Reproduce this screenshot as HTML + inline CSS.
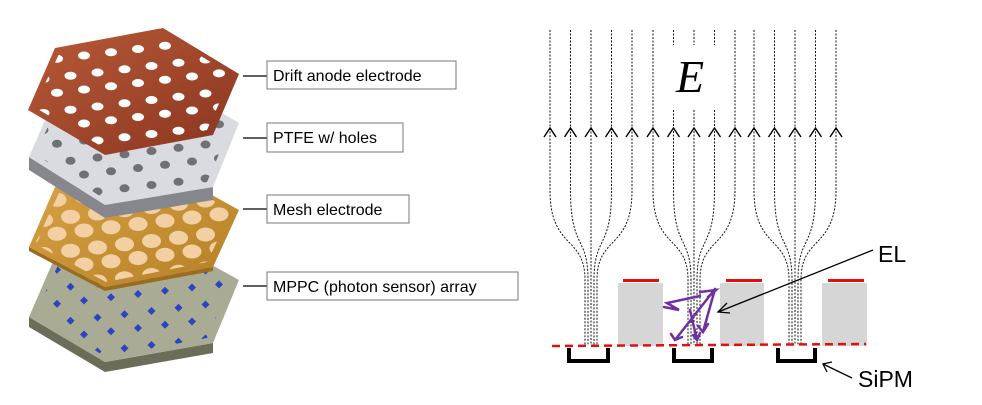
<!DOCTYPE html>
<html><head><meta charset="utf-8"><style>
html,body{margin:0;padding:0;background:#fff;width:982px;height:405px;overflow:hidden;}
svg{display:block;font-family:"Liberation Sans",sans-serif;}
</style></head><body>
<svg id="fig" width="982" height="405" viewBox="0 0 982 405" xmlns="http://www.w3.org/2000/svg">
<defs>
<linearGradient id="gBrown" x1="0" y1="0" x2="1" y2="1"><stop offset="0" stop-color="#b85a38"/><stop offset="1" stop-color="#8a3520"/></linearGradient>
<linearGradient id="gGold" x1="0" y1="0" x2="1" y2="1"><stop offset="0" stop-color="#d9a447"/><stop offset="1" stop-color="#b57f25"/></linearGradient>
<clipPath id="cTop"><polygon points="34,107 60,52 163,33 232,75 207,130 106,149"/></clipPath>
<clipPath id="cPtfe"><polygon points="35,154 60,101 163,82 232,124 207,182 106,200"/></clipPath>
<clipPath id="cMesh"><polygon points="35,244 60,191 163,172 232,211 207,262 106,282"/></clipPath>
<clipPath id="cMppc"><polygon points="35,314 60,261 163,242 232,281 207,338 106,357"/></clipPath>
</defs>

<g>
<polygon points="29,317 105,362 213,343 213,353 105,372 29,327" fill="#6b6d58"/>
<polygon points="29,317 55,257 163,238 239,280 213,343 105,362" fill="#a9ab95"/>
<g id="mppcDots" clip-path="url(#cMppc)"></g>
</g>
<g>
<polygon points="29,247 105,287 213,267 213,271 105,291 29,251" fill="#9a6c20"/>
<polygon points="29,247 55,187 163,168 239,210 213,267 105,287" fill="url(#gGold)"/>
<g id="meshHoles" clip-path="url(#cMesh)"></g>
</g>
<g>
<polygon points="29,157 105,205 213,187 213,200 105,218 29,170" fill="#85878c"/>
<polygon points="29,157 55,97 163,78 239,123 213,187 105,205" fill="#d9dbe0"/>
<g id="ptfeHoles" clip-path="url(#cPtfe)"></g>
</g>
<g>
<polygon points="28,110 55,48 163,28 239,74 213,135 105,155" fill="url(#gBrown)"/>
<g id="topHoles" clip-path="url(#cTop)"></g>
</g>

<g>
<line x1="243" y1="76" x2="267" y2="76" stroke="#000" stroke-width="1.2"/>
<rect x="267" y="61" width="189" height="28" fill="#fff" stroke="#777"/>
<text x="273" y="81" font-size="16">Drift anode electrode</text></g>
<g>
<line x1="243" y1="138" x2="267" y2="138" stroke="#000" stroke-width="1.2"/>
<rect x="267" y="123" width="136" height="29" fill="#fff" stroke="#777"/>
<text x="273" y="143" font-size="16">PTFE w/ holes</text></g>
<g>
<line x1="243" y1="209" x2="267" y2="209" stroke="#000" stroke-width="1.2"/>
<rect x="267" y="195" width="142" height="28" fill="#fff" stroke="#777"/>
<text x="273" y="215" font-size="16">Mesh electrode</text></g>
<g>
<line x1="243" y1="286" x2="267" y2="286" stroke="#000" stroke-width="1.2"/>
<rect x="267" y="272" width="251" height="28" fill="#fff" stroke="#777"/>
<text x="273" y="292" font-size="16">MPPC (photon sensor) array</text></g>

<g>
<rect x="618" y="283" width="45" height="63" fill="#d6d6d6"/>
<rect x="720" y="283" width="44" height="63" fill="#d6d6d6"/>
<rect x="822" y="283" width="45" height="63" fill="#d6d6d6"/>
<rect x="623" y="279" width="36" height="3" fill="#e01010"/>
<rect x="726" y="279" width="36" height="3" fill="#e01010"/>
<rect x="828" y="279" width="36" height="3" fill="#e01010"/>
</g>
<g id="field" fill="none" stroke="#111" stroke-width="1" stroke-dasharray="2,1.5"></g>
<g id="arrows" fill="none" stroke="#000" stroke-width="1.4"></g>
<text x="690" y="92" font-family="Liberation Serif,serif" font-style="italic" font-size="46" text-anchor="middle">E</text>
<line x1="552" y1="346" x2="866" y2="344" stroke="#e01010" stroke-width="2.5" stroke-dasharray="8,5"/>
<g fill="none" stroke="#000" stroke-width="4">
<polyline points="569,348 569,361 608,361 608,348"/>
<polyline points="674,348 674,361 712,361 712,348"/>
<polyline points="778,348 778,361 815,361 815,348"/>
</g>
<g stroke="#7030a0" stroke-width="2.5" fill="none" stroke-linecap="round">
<polyline points="700,296 667,303 679,310 664,307"/>
<polyline points="715,289 703,332"/>
<polyline points="715,289 675,340"/>
<polyline points="690,310 697,340"/>
<polyline points="708,297 716,290 700,292"/>
<polyline points="671,334 675,340 682,337"/>
<polyline points="698,326 703,332 708,324"/>
<polyline points="693,335 697,340 700,333"/>
</g>
<text x="878" y="262" font-size="23">EL</text>
<line x1="873" y1="250" x2="718" y2="312" stroke="#000" stroke-width="1.3"/>
<polyline points="727,303 718,312 730,313" fill="none" stroke="#000" stroke-width="1.3"/>
<text x="858" y="387" font-size="23">SiPM</text>
<line x1="852" y1="378" x2="823" y2="364" stroke="#000" stroke-width="1.3"/>
<polyline points="827,372 823,364 832,362" fill="none" stroke="#000" stroke-width="1.3"/>
</svg>
<script>
var groupCenters=[591,694,795];
var lineOffsets=[-2,-1,0,1,2];
var NS="http://www.w3.org/2000/svg";
function mk(tag,attrs,parent){var e=document.createElementNS(NS,tag);for(var k in attrs)e.setAttribute(k,attrs[k]);parent.appendChild(e);return e;}
function holes(id,rows,fill,rx,ry,x0,y0,dx,dy,diamond){
 var g=document.getElementById(id);
 for(var r=0;r<rows;r++)for(var c=0;c<10;c++){
  var x=x0+c*dx+(r%2)*dx/2, y=y0+r*dy-c*dx*0.12;
  var e;
  if(diamond){e=mk('polygon',{points:(x)+','+(y-ry)+' '+(x+rx)+','+y+' '+x+','+(y+ry)+' '+(x-rx)+','+y,fill:fill},g);}
  else e=mk('ellipse',{cx:x,cy:y,rx:rx,ry:ry,fill:fill},g);
  
  
 }
}
holes('topHoles',10,'#fff',6,4,30,62,27,17,false);
holes('ptfeHoles',9,'#6f7176',5,4,30,113,27,17,false);
holes('meshHoles',9,'#f3cfa4',9.5,7,30,203,27,17,false);
holes('mppcDots',7,'#2b45c0',4,4,30,273,27,17,true);
var field=document.getElementById('field'),arr=document.getElementById('arrows');
groupCenters.forEach(function(c,gi){
 lineOffsets.forEach(function(o){
  var xt=c+o*20.5, xb=c+o*3;
  var d;
  if(gi===1&&o>=-1&&o<=1){d='M'+xt+' 30 L'+xt+' 45 M'+xt+' 110 ';}else d='M'+xt+' 30 ';
  d+='L'+xt+' 190 C'+xt+' 250,'+xb+' 235,'+xb+' 280 L'+xb+' 345';
  var p=mk('path',{d:d},field);
  
  
  var a=mk('polyline',{points:(xt-6)+',137 '+xt+',128 '+(xt+6)+',137'},arr);
  
  
 });
});
</script>
</body></html>
